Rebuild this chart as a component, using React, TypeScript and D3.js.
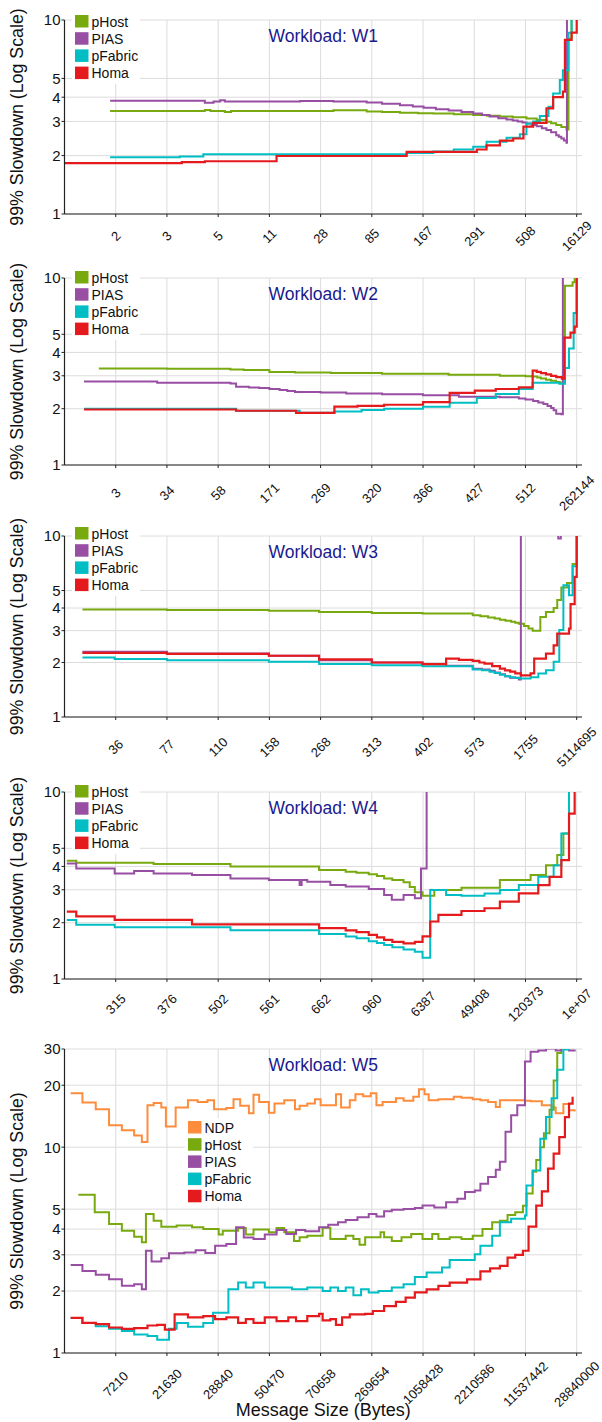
import React from "react";
import * as d3 from "d3";

type Pt = [number, number];

// x: position along the message-size axis in percent of messages, y: 99% slowdown
const seriesOrder = ["NDP", "pHost", "PIAS", "pFabric", "Homa"];
const seriesColors: Record<string, string> = {
  NDP: "#fd8d3c",
  pHost: "#78a90f",
  PIAS: "#984ea3",
  pFabric: "#00bec4",
  Homa: "#e41a1c",
};

const w1Ticks = ["2", "3", "5", "11", "28", "85", "167", "291", "508", "16129"];
const w2Ticks = ["3", "34", "58", "171", "269", "320", "366", "427", "512", "262144"];
const w3Ticks = ["36", "77", "110", "158", "268", "313", "402", "573", "1755", "5114695"];
const w4Ticks = ["315", "376", "502", "561", "662", "960", "6387", "49408", "120373", "1e+07"];
const w5Ticks = ["7210", "21630", "28840", "50470", "70658", "269654", "1058428", "2210586", "11537442", "28840000"];

const yTicks10 = [1, 2, 3, 4, 5, 10];
const yTicks30 = [1, 2, 3, 4, 5, 10, 20, 30];

// ---- W1
const w1PHost: Pt[] = [[8.9,3.40],[27.4,3.44],[28.5,3.40],[31.3,3.36],[32.5,3.40],[46,3.40],[52.5,3.43],[59,3.38],[62,3.36],[65.5,3.33],[69,3.31],[72,3.30],[76,3.27],[79.8,3.24],[82.5,3.21],[85,3.18],[87.5,3.15],[90.2,3.11],[92.2,3.05],[94.1,2.99],[95,2.94],[96,2.88],[97,2.81],[98,2.73],[98.4,8],[99,12]];
const w1Pias: Pt[] = [[8.9,3.84],[27.1,3.84],[27.4,3.75],[29.1,3.80],[30.4,3.86],[31.3,3.80],[46,3.82],[52.5,3.80],[59,3.76],[62,3.70],[65.5,3.64],[68,3.58],[70.1,3.53],[72.5,3.47],[75,3.42],[77.5,3.36],[79.8,3.30],[81.5,3.24],[83,3.18],[84.7,3.12],[86.3,3.07],[87.5,3.03],[88.5,3.0],[89.4,2.96],[90.2,2.93],[91.2,2.88],[92.2,2.83],[93.2,2.77],[94.1,2.71],[95,2.64],[96,2.55],[96.5,2.5],[97,2.45],[97.5,2.39],[98,2.33],[98.1,15]];
const w1PFabric: Pt[] = [[8.9,1.96],[22.5,1.98],[27.1,2.03],[46,2.03],[66.8,2.06],[72,2.10],[76,2.15],[79.8,2.22],[82.4,2.36],[86.3,2.47],[88.9,2.58],[90.2,2.93],[91.5,3.0],[92.8,3.2],[94.5,3.57],[95.4,4.18],[96.7,4.9],[97.3,5.5],[98.4,8.6],[99,12]];
const w1Homa: Pt[] = [[0.1,1.83],[22.9,1.85],[27.4,1.87],[41.4,1.99],[66.8,2.09],[80.5,2.15],[82.4,2.26],[85,2.39],[87.6,2.45],[89.6,2.82],[91.5,2.95],[94.1,3.5],[95.4,4.0],[97.3,4.27],[97.7,7.9],[99,8.6],[100,12]];

// ---- W2
const w2PHost: Pt[] = [[6.7,3.28],[20,3.27],[32.4,3.24],[35,3.22],[40,3.14],[45,3.12],[52,3.10],[62,3.08],[75,3.04],[85,3.0],[90,2.98],[91.4,2.97],[92.3,2.94],[93,2.9],[94,2.86],[95,2.82],[96,2.78],[96.7,2.75],[97.7,9.1],[99.2,9.5],[99.6,12]];
const w2Pias: Pt[] = [[3.8,2.80],[18.1,2.75],[32.4,2.73],[33.5,2.62],[36,2.60],[38,2.58],[40,2.55],[42,2.52],[43.5,2.49],[45,2.46],[50,2.44],[55,2.41],[62,2.39],[70,2.36],[77,2.32],[85,2.30],[88.7,2.27],[90,2.24],[91.5,2.2],[92.5,2.16],[93.5,2.12],[94.3,2.07],[95,2.02],[95.5,1.96],[96,1.88],[97,1.87],[97.3,15]];
const w2PFabric: Pt[] = [[3.8,2.0],[18.1,2.0],[33.5,1.95],[45.9,1.90],[52.7,1.93],[58,1.97],[62.4,2.0],[70,2.05],[75.2,2.15],[80.5,2.28],[84.2,2.4],[88.7,2.55],[91.4,2.75],[96.6,2.72],[97.7,3.3],[98.5,4.2],[99.4,6.5],[100,12]];
const w2Homa: Pt[] = [[3.8,1.98],[33.5,1.95],[45.2,1.9],[52.7,2.05],[57.2,2.07],[62.4,2.1],[70,2.17],[75.2,2.43],[80.1,2.5],[84.2,2.55],[88.7,2.6],[91.4,3.2],[92.2,3.15],[93,3.1],[94,3.05],[95,3.0],[96,2.95],[97.1,2.9],[97.6,4.8],[98.8,5.1],[99.6,5.5],[100,12]];

// ---- W3
const w3PHost: Pt[] = [[3.5,3.93],[20,3.90],[39.9,3.86],[49.7,3.8],[60,3.76],[69.9,3.73],[79.7,3.65],[81.2,3.6],[82.7,3.55],[84,3.5],[85,3.45],[86.1,3.40],[87.2,3.36],[88,3.32],[88.7,3.28],[89.7,3.18],[90.6,3.08],[91.4,3.0],[92.9,3.57],[94,3.8],[95.5,4.0],[96.2,4.43],[97,5.2],[98.1,5.5],[99.2,7.0],[100,12]];
const w3Pias: Pt[] = [[3.5,2.29],[20,2.24],[39.9,2.18],[49.7,2.06],[60,2.0],[69.9,1.96],[74.5,1.92],[79.7,1.85],[81.5,1.83],[83,1.8],[84,1.76],[85,1.72],[86,1.68],[87,1.65],[88.7,1.61],[89.1,40],[96.4,9.7],[96.9,40],[100,40]];
const w3PFabric: Pt[] = [[3.5,2.13],[9.8,2.09],[20,2.06],[39.9,2.02],[49.7,1.96],[60,1.93],[69.9,1.91],[79.7,1.83],[81.5,1.81],[83,1.78],[84,1.75],[85,1.71],[86,1.68],[87,1.66],[88,1.64],[89.1,1.63],[91,1.66],[92.5,1.74],[94,1.81],[95.5,2.02],[96.6,3.02],[97.4,5.35],[98.5,4.7],[99.2,6.8],[100,12]];
const w3Homa: Pt[] = [[3.5,2.26],[20,2.23],[39.9,2.18],[49.7,2.08],[60,2.0],[69.9,1.96],[74.5,2.1],[77,2.07],[79.7,2.04],[81,2.0],[82,1.97],[83.5,1.91],[85,1.85],[86,1.81],[87,1.78],[88,1.74],[89.1,1.70],[91,1.74],[91.7,2.10],[94,2.24],[95.5,2.49],[96.2,2.89],[98.5,3.08],[98.8,4.2],[99.6,5.95],[100,12]];

// ---- W4
const w4PHost: Pt[] = [[0.45,4.29],[2.3,4.18],[17.4,4.12],[32.4,3.99],[49.7,3.83],[54.9,3.75],[57,3.70],[59.4,3.63],[61,3.55],[62.4,3.45],[64,3.38],[66.2,3.29],[67.4,3.1],[68.4,2.91],[69.9,2.79],[72.2,2.99],[77.5,3.08],[85,3.38],[91,3.6],[94,4.06],[96.2,4.6],[97.4,6.0],[98.5,12]];
const w4Pias: Pt[] = [[0.45,4.15],[2.3,3.9],[9.8,3.67],[13.6,3.78],[17.4,3.67],[24.9,3.6],[32.4,3.45],[39.9,3.38],[45.9,3.18],[46.3,3.38],[47.4,3.31],[51.9,3.18],[54.9,3.12],[59.4,3.03],[62.4,2.81],[63.9,2.65],[66.2,2.81],[68.4,2.7],[69.6,3.9],[70.7,40]];
const w4PFabric: Pt[] = [[0.45,2.07],[2.3,1.95],[9.8,1.89],[32.4,1.82],[49.7,1.74],[54.9,1.69],[57,1.65],[59.4,1.59],[61,1.56],[62.4,1.52],[64,1.48],[66.2,1.44],[68.4,1.40],[69.9,1.30],[71.4,2.99],[74.5,2.81],[77.5,2.79],[82,2.87],[85,2.99],[88.7,3.18],[92.5,3.52],[95.5,4.06],[97,6.0],[98.5,12]];
const w4Homa: Pt[] = [[0.45,2.29],[2.3,2.16],[9.8,2.07],[24.9,1.96],[49.7,1.87],[54.9,1.82],[57,1.78],[59.4,1.72],[61,1.67],[62.4,1.62],[64,1.58],[66.2,1.55],[68.4,1.58],[69.9,1.69],[71.4,2.03],[73,2.2],[77.5,2.31],[82,2.39],[85,2.59],[88.7,2.87],[92.5,3.18],[94.7,3.52],[97,4.32],[98.5,7.66],[99.6,12]];

// ---- W5
const w5Ndp: Pt[] = [[1.2,18.3],[3.5,16.5],[6.1,15.3],[8.7,12.8],[11.2,12.1],[13.6,11.4],[15.1,10.6],[16.2,16.0],[17.4,16.4],[18.9,15.6],[19.8,12.6],[21.7,15.6],[24.1,16.9],[26,16.6],[27.9,16.9],[29.2,15.3],[31.6,15.5],[33,17.1],[34.3,15.9],[36,14.6],[36.9,18.0],[38,16.6],[39.9,14.7],[41,16.3],[42.9,16.9],[45,15.3],[45.9,15.9],[47.4,16.3],[48.9,17.1],[50,16.0],[53,18.1],[54,15.6],[55.7,16.9],[56.8,18.1],[58.3,17.7],[59.8,18.3],[60.9,16.0],[62.1,16.6],[64.7,17.3],[66.2,16.8],[68.1,17.6],[69.2,19.1],[70.3,18.1],[71.1,16.9],[73,17.1],[76,17.6],[77.5,17.4],[79.7,17.1],[81.2,16.9],[82.7,16.6],[84.2,15.7],[85,16.9],[88,16.9],[89.9,16.8],[91,16.7],[93.2,16.0],[95.1,15.6],[95.9,14.6],[97.4,16.2],[98.5,15.1],[99.6,14.9]];
const w5PHost: Pt[] = [[2.7,5.87],[5.9,4.83],[8.7,4.24],[11.2,3.93],[13.6,3.67],[15.1,3.45],[15.9,4.74],[17.4,4.39],[18.9,4.11],[21.9,4.16],[24.9,4.08],[27.1,4.0],[30.1,3.77],[30.9,3.93],[33.9,4.05],[35.4,3.77],[36.9,3.98],[39.9,3.86],[41.4,4.05],[42.9,3.86],[44.8,3.5],[45.9,3.65],[47.4,3.71],[50.4,4.06],[51.9,3.58],[54.9,3.71],[56.4,3.58],[57.6,3.36],[58.7,3.65],[61.7,3.86],[62.4,3.65],[63.9,3.5],[65.8,3.65],[67.7,3.79],[69.9,3.58],[71.8,3.79],[73,3.58],[75.2,3.65],[77.5,3.58],[79.7,3.71],[81.6,4.0],[83.5,4.32],[85,4.39],[86.5,4.68],[88,4.83],[89.5,5.2],[90.2,5.95],[91.4,7.59],[92.1,8.67],[92.9,10.0],[93.6,11.7],[94.7,15.2],[95.5,21.1],[96.2,28.7],[97,35]];
const w5Pias: Pt[] = [[1.2,2.68],[3.5,2.5],[6.1,2.4],[8.7,2.28],[11.2,2.12],[13.6,2.16],[15.1,2.04],[15.9,3.14],[17,2.78],[18.9,2.89],[20.4,3.05],[23.4,3.08],[25.6,3.16],[27.5,3.06],[29.4,3.32],[31.6,3.39],[33.5,4.08],[35,3.64],[36.9,3.58],[39.1,3.76],[41.4,3.96],[43.3,3.79],[45.2,3.96],[47,3.9],[49.7,4.08],[51.5,4.2],[53.4,4.32],[54.9,4.43],[57.2,4.57],[59.4,4.74],[60.9,4.6],[62.4,4.88],[63.9,4.96],[66.2,5.01],[68.4,5.07],[69.9,5.21],[72.2,5.1],[74.5,5.4],[76.7,5.61],[78.2,6.05],[80.1,6.16],[81.2,6.64],[82.7,7.17],[84.2,7.78],[85,8.5],[86.1,11.9],[87.2,14.3],[88.4,16.0],[89.9,26.1],[91,29.1],[92.5,29.5],[94,30.2],[95.9,29.5],[97,30.2],[98.5,29.5],[99.6,29.8]];
const w5PFabric: Pt[] = [[1.2,1.48],[3.5,1.40],[6.1,1.35],[8.7,1.31],[11.2,1.28],[13.6,1.23],[16.2,1.21],[18.1,1.16],[20.4,1.31],[21.9,1.40],[24.1,1.34],[27.1,1.40],[29,1.57],[32,2.04],[33.9,2.2],[35.4,2.08],[36.9,2.2],[39.1,2.08],[42.1,2.08],[44.4,2.04],[47.4,2.08],[50.4,2.0],[51.9,2.08],[53.4,2.0],[54.9,2.08],[56.4,1.91],[57.9,2.04],[59.4,1.97],[61.3,2.0],[63.9,2.08],[66.2,2.16],[68.4,2.34],[70.7,2.46],[73.7,2.6],[75.2,2.83],[78.2,2.83],[80.1,3.02],[81.2,3.32],[83.5,3.71],[85,4.32],[87.2,4.49],[89.9,4.66],[90.2,6.52],[91.4,7.71],[92.9,11.0],[94,14.0],[95.1,17.3],[96.2,23.8],[97.4,29.8],[98.5,35]];
const w5Homa: Pt[] = [[1.2,1.48],[3.5,1.40],[6.1,1.38],[8.7,1.33],[11.2,1.31],[13.6,1.32],[16.2,1.36],[18.1,1.37],[19.6,1.30],[21.5,1.54],[24.1,1.49],[27.1,1.51],[29.4,1.46],[31.6,1.49],[33.9,1.40],[35.4,1.46],[36.9,1.40],[39.1,1.49],[41.4,1.43],[43.7,1.49],[45.2,1.43],[47.4,1.51],[49.7,1.55],[50.4,1.44],[51.9,1.46],[53,1.37],[54.2,1.49],[55.7,1.54],[58.7,1.55],[60.2,1.60],[62.4,1.69],[64.7,1.77],[66.6,1.86],[68.4,1.97],[70.7,2.04],[73,2.12],[75.2,2.2],[78.6,2.28],[81.2,2.49],[83.1,2.58],[85,2.65],[86.5,2.91],[88,3.0],[89.5,3.14],[90.6,4.11],[92.1,5.2],[93.2,6.1],[94.4,7.86],[95.5,9.3],[96.6,11.2],[97.7,14.0],[98.5,16.3],[99.2,17.6]];

const panels = [
  { title: "Workload: W1", ticks: w1Ticks, yTicks: yTicks10, series: { pHost: w1PHost, PIAS: w1Pias, pFabric: w1PFabric, Homa: w1Homa } as Record<string, Pt[]> },
  { title: "Workload: W2", ticks: w2Ticks, yTicks: yTicks10, series: { pHost: w2PHost, PIAS: w2Pias, pFabric: w2PFabric, Homa: w2Homa } as Record<string, Pt[]> },
  { title: "Workload: W3", ticks: w3Ticks, yTicks: yTicks10, series: { pHost: w3PHost, PIAS: w3Pias, pFabric: w3PFabric, Homa: w3Homa } as Record<string, Pt[]> },
  { title: "Workload: W4", ticks: w4Ticks, yTicks: yTicks10, series: { pHost: w4PHost, PIAS: w4Pias, pFabric: w4PFabric, Homa: w4Homa } as Record<string, Pt[]> },
  { title: "Workload: W5", ticks: w5Ticks, yTicks: yTicks30, series: { NDP: w5Ndp, pHost: w5PHost, PIAS: w5Pias, pFabric: w5PFabric, Homa: w5Homa } as Record<string, Pt[]> },
];

// layout (pixels)
const W = 602, H = 1422;
const plotTop = [20, 278, 536, 792, 1049];
const plotBottom = [214, 465, 717, 979, 1353];
const tickLabelOff = [22, 28, 30, 25, 31];
const legendPos = [[75, 15], [75, 271], [75, 527], [75, 785], [188, 1121]];
const xLeft = 64.5, xRight = 576.7, xEnd = 582;
const FONT = "'Liberation Sans', Arial, Helvetica, sans-serif";

function Panel({ p, i }: { p: typeof panels[number]; i: number }) {
  const top = plotTop[i], bottom = plotBottom[i];
  const x = d3.scaleLinear().domain([0, 100]).range([xLeft, xRight]);
  const y = d3.scaleLog().domain([1, d3.max(p.yTicks) as number]).range([bottom, top]);
  const line = d3.line<Pt>().x(d => x(d[0])).y(d => y(d[1])).curve(d3.curveStepAfter);
  const names = seriesOrder.filter(n => p.series[n]);
  const clipId = `clip${i}`;
  const [lx, ly] = legendPos[i];
  const tickPcts = p.ticks.map((_, k) => (k + 1) * 10);
  return (
    <g>
      <defs>
        <clipPath id={clipId}>
          <rect x={xLeft} y={top} width={xEnd - xLeft} height={bottom - top} />
        </clipPath>
      </defs>
      {/* grid */}
      {tickPcts.map(t => (
        <line key={"gx" + t} x1={x(t)} x2={x(t)} y1={top} y2={bottom} stroke="#dcdcdc" strokeWidth={1} />
      ))}
      {p.yTicks.map(t => (
        <line key={"gy" + t} x1={xLeft} x2={xEnd} y1={y(t)} y2={y(t)} stroke="#dcdcdc" strokeWidth={1} />
      ))}
      {/* legend box */}
      <rect x={lx - 3} y={ly - 3} width={68} height={names.length * 17.2 + 3} fill="#fff" />
      {/* title */}
      <text x={(xLeft + xEnd) / 2} y={top + 21.5} textAnchor="middle" fontSize={17.5} fill="#1a1a8f" fontFamily={FONT}>
        {p.title}
      </text>
      {/* series */}
      <g clipPath={`url(#${clipId})`}>
        {names.map(n => (
          <path key={n} d={line(p.series[n]) as string} fill="none" stroke={seriesColors[n]} strokeWidth={n === "Homa" ? 2.2 : 2} strokeLinejoin="miter" />
        ))}
      </g>
      {/* legend */}
      {names.map((n, k) => (
        <g key={"lg" + n}>
          <rect x={lx} y={ly + k * 17.2} width={13.5} height={12.5} fill={seriesColors[n]} />
          <text x={lx + 16.5} y={ly + k * 17.2 + 11.5} fontSize={14} fill="#111" fontFamily={FONT}>{n}</text>
        </g>
      ))}
      {/* axes */}
      <line x1={xLeft} x2={xLeft} y1={top} y2={bottom} stroke="#222" strokeWidth={1.2} />
      <line x1={xLeft} x2={xEnd} y1={bottom} y2={bottom} stroke="#222" strokeWidth={1.2} />
      {p.yTicks.map(t => (
        <g key={"yt" + t}>
          <line x1={xLeft - 3} x2={xLeft} y1={y(t)} y2={y(t)} stroke="#222" strokeWidth={1} />
          <text x={xLeft - 4} y={y(t)} dy="0.36em" textAnchor="end" fontSize={15} fill="#111" fontFamily={FONT}>{t}</text>
        </g>
      ))}
      {tickPcts.map((t, k) => (
        <g key={"xt" + t}>
          <line x1={x(t)} x2={x(t)} y1={bottom} y2={bottom + 3} stroke="#222" strokeWidth={1} />
          <text transform={`translate(${x(t)},${bottom + tickLabelOff[i]}) rotate(-45)`} dy="0.35em" textAnchor="middle" fontSize={13} fill="#111" fontFamily={FONT}>
            {p.ticks[k]}
          </text>
        </g>
      ))}
      <text transform={`translate(23,${(top + bottom) / 2}) rotate(-90)`} textAnchor="middle" fontSize={17.8} fill="#111" fontFamily={FONT}>
        99% Slowdown (Log Scale)
      </text>
    </g>
  );
}

export default function App() {
  return (
    <svg width={W} height={H} viewBox={`0 0 ${W} ${H}`} style={{ position: "absolute", left: 0, top: 0, background: "#fff" }}>
      <rect x={0} y={0} width={W} height={H} fill="#fff" />
      {panels.map((p, i) => <Panel key={p.title} p={p} i={i} />)}
      <text x={(xLeft + xEnd) / 2} y={1416} textAnchor="middle" fontSize={18} fill="#111" fontFamily={FONT}>
        Message Size (Bytes)
      </text>
    </svg>
  );
}
